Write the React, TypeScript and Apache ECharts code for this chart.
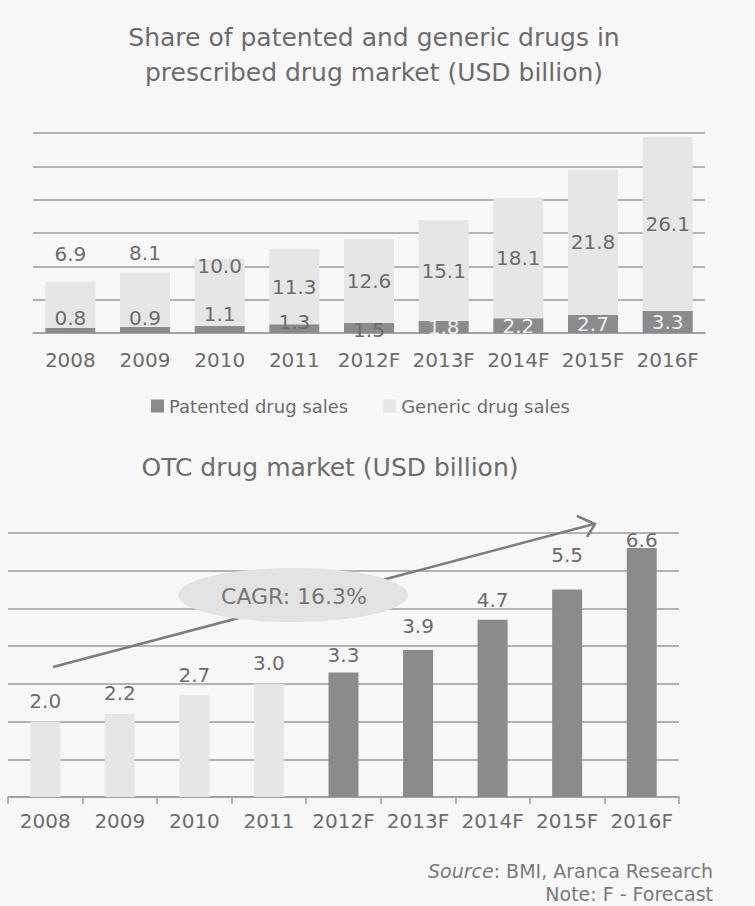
import React, { useEffect, useRef } from "react";
import * as echarts from "echarts";

const years = ["2008", "2009", "2010", "2011", "2012F", "2013F", "2014F", "2015F", "2016F"];
const patentedSales = [0.8, 0.9, 1.1, 1.3, 1.5, 1.8, 2.2, 2.7, 3.3];
const genericSales = [6.9, 8.1, 10.0, 11.3, 12.6, 15.1, 18.1, 21.8, 26.1];
const otcMarket = [2.0, 2.2, 2.7, 3.0, 3.3, 3.9, 4.7, 5.5, 6.6];

const topTitle = "Share of patented and generic drugs in\nprescribed drug market (USD billion)";
const bottomTitle = "OTC drug market (USD billion)";
const seriesNames = ["Patented drug sales", "Generic drug sales"];
const cagrText = "CAGR: 16.3%";

const FONT = "DejaVu Sans";
const TXT = "#6c6c6c";
const DARK = "#8b8b8d";
const LIGHT = "#e6e6e6";
const GRID = "#9d9d9d";

// label nudges (styling only)
const genericOffsets = [-51, -47, -26, 0, 0, 0, 0, 0, 0];
const patentedOffsets = [-12, -12, -15, -7, 2, 0, 0, 0, 0];
const otcOffsets = [0, 0, 1, 0, 3, -3, 1, -14, 13];

export default function App() {
  const ref = useRef<HTMLDivElement>(null);
  useEffect(() => {
    if (!ref.current) return;
    const chart = echarts.init(ref.current, null, { renderer: "svg" });
    const fmt = (p: any) => Number(p.value).toFixed(1);
    const option: any = {
      animation: false,
      backgroundColor: "#f8f8f8",
      textStyle: { fontFamily: FONT },
      title: [
        {
          text: topTitle,
          left: 374,
          top: 20,
          padding: 0,
          textAlign: "center",
          textStyle: { fontFamily: FONT, fontSize: 25, fontWeight: "normal", color: TXT, lineHeight: 35 },
        },
        {
          text: bottomTitle,
          left: 330,
          top: 452,
          padding: 0,
          textAlign: "center",
          textStyle: { fontFamily: FONT, fontSize: 25, fontWeight: "normal", color: TXT, lineHeight: 30 },
        },
      ],
      legend: {
        data: seriesNames,
        left: 151,
        top: 397,
        padding: 0,
        itemWidth: 13,
        itemHeight: 13,
        itemGap: 35,
        icon: "rect",
        textStyle: { fontFamily: FONT, fontSize: 18, color: TXT },
      },
      grid: [
        { left: 33, right: 50, top: 133, bottom: 906 - 333, containLabel: false },
        { left: 8, right: 76, top: 533, bottom: 906 - 797, containLabel: false },
      ],
      xAxis: [
        {
          type: "category",
          gridIndex: 0,
          data: years,
          axisLine: { show: true, lineStyle: { color: GRID, width: 1.5 } },
          axisTick: { show: false },
          axisLabel: { fontFamily: FONT, fontSize: 20, color: TXT, margin: 17, interval: 0 },
        },
        {
          type: "category",
          gridIndex: 1,
          data: years,
          axisLine: { show: true, lineStyle: { color: GRID, width: 1.5 } },
          axisTick: { show: true, length: 7, lineStyle: { color: GRID, width: 1.5 } },
          axisLabel: { fontFamily: FONT, fontSize: 20, color: TXT, margin: 14, interval: 0 },
        },
      ],
      yAxis: [
        {
          type: "value",
          gridIndex: 0,
          min: 0,
          max: 30,
          interval: 5,
          axisLine: { show: false },
          axisTick: { show: false },
          axisLabel: { show: false },
          splitLine: { show: true, lineStyle: { color: GRID, width: 1.5 } },
        },
        {
          type: "value",
          gridIndex: 1,
          min: 0,
          max: 7,
          interval: 1,
          axisLine: { show: false },
          axisTick: { show: false },
          axisLabel: { show: false },
          splitLine: { show: true, lineStyle: { color: GRID, width: 1.5 } },
        },
      ],
      series: [
        {
          name: seriesNames[0],
          type: "bar",
          xAxisIndex: 0,
          yAxisIndex: 0,
          stack: "rx",
          barWidth: 50,
          itemStyle: { color: DARK },
          data: patentedSales.map((v, i) => ({
            value: v,
            label: {
              offset: [0, patentedOffsets[i]],
              color: i < 5 ? "#6c6c6c" : "#efefef",
            },
          })),
          label: {
            show: true,
            position: "inside",
            formatter: fmt,
            fontFamily: FONT,
            fontSize: 20,
          },
        },
        {
          name: seriesNames[1],
          type: "bar",
          xAxisIndex: 0,
          yAxisIndex: 0,
          stack: "rx",
          barWidth: 50,
          itemStyle: { color: LIGHT },
          data: genericSales.map((v, i) => ({
            value: v,
            label: { offset: [0, genericOffsets[i]] },
          })),
          label: {
            show: true,
            position: "inside",
            formatter: fmt,
            fontFamily: FONT,
            fontSize: 20,
            color: TXT,
          },
        },
        {
          name: "OTC",
          type: "bar",
          xAxisIndex: 1,
          yAxisIndex: 1,
          barWidth: 30,
          data: otcMarket.map((v, i) => ({
            value: v,
            itemStyle: { color: years[i].endsWith("F") ? DARK : LIGHT },
            label: { offset: [0, otcOffsets[i]] },
          })),
          label: {
            show: true,
            position: "top",
            distance: 11,
            formatter: fmt,
            fontFamily: FONT,
            fontSize: 20,
            color: TXT,
          },
        },
      ],
      graphic: [
        {
          type: "line",
          z: 10,
          shape: { x1: 53, y1: 667, x2: 594, y2: 524 },
          style: { stroke: "#7d7d7d", lineWidth: 2.5 },
        },
        {
          type: "polyline",
          z: 10,
          shape: { points: [[577, 516], [595, 524], [587, 537]] },
          style: { stroke: "#7d7d7d", lineWidth: 2.5, fill: null },
        },
        {
          type: "ellipse",
          z: 11,
          shape: { cx: 293, cy: 595, rx: 115, ry: 27 },
          style: { fill: "#e3e3e3" },
        },
        {
          type: "text",
          z: 12,
          x: 294,
          y: 596,
          style: {
            text: cagrText,
            font: `22px "${FONT}"`,
            fill: "#777777",
            align: "center",
            verticalAlign: "middle",
          },
        },
        {
          type: "text",
          z: 12,
          x: 713,
          y: 871,
          style: {
            text: "{i|Source}: BMI, Aranca Research",
            font: `19px "${FONT}"`,
            fill: "#7a7a7a",
            align: "right",
            verticalAlign: "middle",
            rich: {
              i: { fontFamily: FONT, fontSize: 19, fontStyle: "italic", fill: "#7a7a7a" },
            },
          },
        },
        {
          type: "text",
          z: 12,
          x: 713,
          y: 894,
          style: {
            text: "Note: F - Forecast",
            font: `19px "${FONT}"`,
            fill: "#7a7a7a",
            align: "right",
            verticalAlign: "middle",
          },
        },
      ],
    };
    chart.setOption(option);
    return () => chart.dispose();
  }, []);
  return (
    <div
      ref={ref}
      style={{ position: "absolute", left: 0, top: 0, width: 755, height: 906 }}
    />
  );
}
